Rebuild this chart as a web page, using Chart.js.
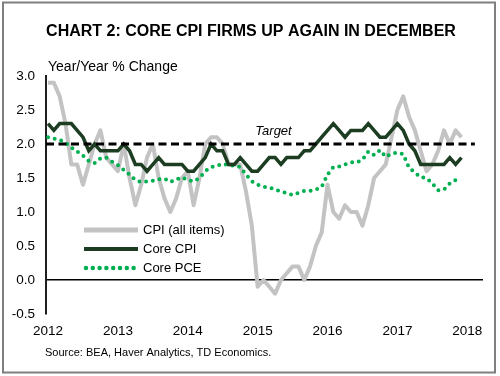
<!DOCTYPE html>
<html>
<head>
<meta charset="utf-8">
<script src="https://cdn.jsdelivr.net/npm/chart.js@4/dist/chart.umd.min.js"></script>
<style>
html,body{margin:0;padding:0;background:#fff;}
#wrap{width:500px;height:376px;position:relative;}
</style>
</head>
<body>
<div id="wrap"><canvas id="c" width="500" height="376"></canvas></div>
<script>
// ---- Data (monthly, Jan 2012 = index 0) ----
const tickYears = ['2012','2013','2014','2015','2016','2017','2018'];
const yTicks = [-0.5, 0.0, 0.5, 1.0, 1.5, 2.0, 2.5, 3.0];
const cpiAll = [
  2.9, 2.9, 2.7, 2.3, 1.7, 1.7, 1.4, 1.7, 2.0, 2.2, 1.8, 1.7,
  1.6, 2.0, 1.5, 1.1, 1.4, 1.8, 2.0, 1.5, 1.2, 1.0, 1.2, 1.5,
  1.6, 1.1, 1.5, 2.0, 2.1, 2.1, 2.0, 1.7, 1.7, 1.7, 1.3, 0.8,
  -0.1, 0.0, -0.1, -0.2, 0.0, 0.1, 0.2, 0.2, 0.0, 0.2, 0.5, 0.7,
  1.4, 1.0, 0.9, 1.1, 1.0, 1.0, 0.8, 1.1, 1.5, 1.6, 1.7, 2.1,
  2.5, 2.7, 2.4, 2.2, 1.9, 1.6, 1.7, 1.9, 2.2, 2.0, 2.2, 2.1
];
const coreCpi = [
  2.3, 2.2, 2.3, 2.3, 2.3, 2.2, 2.1, 1.9, 2.0, 1.9, 1.9, 1.9,
  1.9, 2.0, 1.9, 1.7, 1.7, 1.6, 1.7, 1.8, 1.7, 1.7, 1.7, 1.7,
  1.6, 1.6, 1.7, 1.8, 2.0, 1.9, 1.9, 1.7, 1.7, 1.8, 1.7, 1.6,
  1.6, 1.7, 1.8, 1.8, 1.7, 1.8, 1.8, 1.8, 1.9, 1.9, 2.0, 2.1,
  2.2, 2.3, 2.2, 2.1, 2.2, 2.2, 2.2, 2.3, 2.2, 2.1, 2.1, 2.2,
  2.3, 2.2, 2.0, 1.9, 1.7, 1.7, 1.7, 1.7, 1.7, 1.8, 1.7, 1.8
];
const corePce = [
  2.10, 2.08, 2.06, 2.02, 1.95, 1.89, 1.83, 1.75, 1.72, 1.79, 1.80, 1.74,
  1.69, 1.62, 1.55, 1.47, 1.44, 1.45, 1.46, 1.48, 1.49, 1.44, 1.48, 1.51,
  1.47, 1.45, 1.50, 1.60, 1.66, 1.68, 1.71, 1.69, 1.68, 1.66, 1.55, 1.45,
  1.40, 1.37, 1.36, 1.33, 1.30, 1.28, 1.25, 1.28, 1.31, 1.31, 1.33, 1.37,
  1.55, 1.66, 1.67, 1.70, 1.73, 1.73, 1.77, 1.89, 1.84, 1.91, 1.81, 1.86,
  1.87, 1.85, 1.65, 1.58, 1.51, 1.50, 1.42, 1.32, 1.33, 1.42, 1.47
];
const targetLevel = 2.0;
const seriesLabels = ['CPI (all items)', 'Core CPI', 'Core PCE'];

const FONT = '"Liberation Sans", Arial, sans-serif';
const toPts = arr => arr.map((v, i) => ({x: i, y: v}));

const textPlugin = {
  id: 'texts',
  beforeDraw(chart) {
    const ctx = chart.ctx;
    ctx.save();
    ctx.fillStyle = '#fff';
    ctx.fillRect(0, 0, chart.width, chart.height);
    ctx.strokeStyle = '#7f7f7f';
    ctx.lineWidth = 2;
    ctx.strokeRect(3, 2.5, 492, 370);
    ctx.restore();
  },
  afterDatasetsDraw(chart) {
    const ctx = chart.ctx;
    const xs = chart.scales.x, ys = chart.scales.y;
    ctx.save();
    ctx.strokeStyle = '#000';
    ctx.lineWidth = 3;
    ctx.setLineDash([8, 4.5]);
    const ty = ys.getPixelForValue(targetLevel);
    ctx.beginPath();
    ctx.moveTo(chart.chartArea.left, ty);
    ctx.lineTo(xs.getPixelForValue(73.3), ty);
    ctx.stroke();
    ctx.restore();
  },
  afterDraw(chart) {
    const ctx = chart.ctx;
    const xs = chart.scales.x, ys = chart.scales.y;
    ctx.save();
    ctx.fillStyle = '#000';
    ctx.textBaseline = 'middle';
    // title
    ctx.font = 'bold 16px ' + FONT;
    ctx.textAlign = 'center';
    ctx.fillText('CHART 2: CORE CPI FIRMS UP AGAIN IN DECEMBER', 251, 32);
    // subtitle
    ctx.font = '14px ' + FONT;
    ctx.textAlign = 'left';
    ctx.fillText('Year/Year % Change', 48, 67);
    // target label
    ctx.font = 'italic 13px ' + FONT;
    ctx.fillText('Target', xs.getPixelForValue(35.6), ys.getPixelForValue(targetLevel) - 13);
    // legend
    const ds = chart.data.datasets;
    const rows = [230, 249, 268];
    ctx.font = '13px ' + FONT;
    for (let i = 0; i < 3; i++) {
      const d = ds[i];
      ctx.save();
      ctx.strokeStyle = d.borderColor;
      ctx.lineWidth = d.borderWidth + (i === 0 ? 1 : 0.5);
      ctx.lineCap = d.borderCapStyle || 'butt';
      ctx.setLineDash(d.borderDash || []);
      ctx.beginPath();
      ctx.moveTo(i === 2 ? 86 : 84, rows[i]);
      ctx.lineTo(138, rows[i]);
      ctx.stroke();
      ctx.restore();
      ctx.fillText(d.label, 143, rows[i]);
    }
    // source
    ctx.font = '11px ' + FONT;
    ctx.fillText('Source: BEA, Haver Analytics, TD Economics.', 45, 353);
    ctx.restore();
  }
};

new Chart(document.getElementById('c'), {
  type: 'line',
  data: {
    datasets: [
      {label: seriesLabels[0], data: toPts(cpiAll), borderColor: '#c3c3c3', borderWidth: 4, pointRadius: 0, tension: 0, order: 3, borderJoinStyle: 'round'},
      {label: seriesLabels[1], data: toPts(coreCpi), borderColor: '#1c3d21', borderWidth: 3.5, pointRadius: 0, tension: 0, order: 1, borderJoinStyle: 'miter'},
      {label: seriesLabels[2], data: toPts(corePce), borderColor: '#00b050', borderWidth: 4, borderDash: [0, 6.8], borderCapStyle: 'round', pointRadius: 0, tension: 0, order: 2}
    ]
  },
  options: {
    responsive: false,
    animation: false,
    events: [],
    layout: {padding: {top: 76, right: 17, bottom: 0, left: 0}},
    plugins: {legend: {display: false}, tooltip: {enabled: false}, title: {display: false}},
    scales: {
      x: {
        type: 'linear', min: -0.35, max: 74.7,
        afterFit: s => { s.height = 62; },
        afterBuildTicks: s => { s.ticks = tickYears.map((t, i) => ({value: i * 12})); },
        grid: {display: false, drawTicks: false},
        border: {display: false},
        ticks: {
          padding: 9, color: '#000', font: {family: FONT, size: 13.5},
          autoSkip: false, maxRotation: 0,
          callback: (v) => tickYears[Math.round(v / 12)]
        }
      },
      y: {
        min: -0.5, max: 3.0,
        afterFit: s => { s.width = 46; },
        afterBuildTicks: s => { s.ticks = yTicks.map(v => ({value: v})); },
        grid: {
          display: true, drawTicks: false, lineWidth: 1.5,
          color: c => (c.tick && c.tick.value === 0) ? '#000' : 'rgba(0,0,0,0)'
        },
        border: {display: true, color: '#1e1e1e', width: 2},
        ticks: {
          padding: 11, color: '#000', font: {family: FONT, size: 13.5},
          callback: v => v.toFixed(1)
        }
      }
    }
  },
  plugins: [textPlugin]
});
</script>
</body>
</html>
